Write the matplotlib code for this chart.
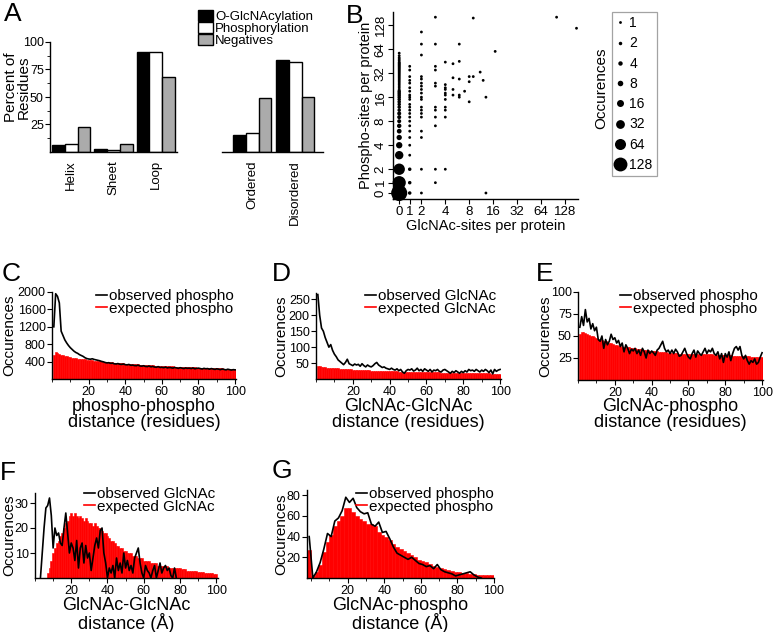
import numpy as np
import matplotlib
matplotlib.use('Agg')
import matplotlib.pyplot as plt
from matplotlib.lines import Line2D
from matplotlib.patches import Patch

plt.rcParams['font.family'] = ['Liberation Sans', 'DejaVu Sans']
plt.rcParams['axes.linewidth'] = 1.0
plt.rcParams['xtick.direction'] = 'out'
plt.rcParams['ytick.direction'] = 'out'
plt.rcParams['xtick.major.size'] = 3.5
plt.rcParams['ytick.major.size'] = 3.5
plt.rcParams['xtick.minor.size'] = 2
plt.rcParams['ytick.minor.size'] = 2
plt.rcParams['xtick.major.pad'] = 1.5
plt.rcParams['ytick.major.pad'] = 1.0

# ---------------- data ----------------
# Panel A
a_struct_cats = ['Helix', 'Sheet', 'Loop']
a_struct_glc = [6, 2.5, 91]
a_struct_pho = [7, 1.5, 91]
a_struct_neg = [23, 7, 68.5]
a_dis_cats = ['Ordered', 'Disordered']
a_dis_glc = [15.5, 84]
a_dis_pho = [17, 82]
a_dis_neg = [49, 50]
a_legend = ['O-GlcNAcylation', 'Phosphorylation', 'Negatives']

# Panel B (GlcNAc sites, phospho sites, number of proteins)
b_glc = [0]*50 + [1]*24 + [2]*19 + [3]*12 + [4]*11 + [5]*4 + [6]*5 + [7] + [8]*3 + [9]*2 + [11] + [12] + [13]*2 + [17] + [101] + [180]
b_pho = ([0, 1, 2, 3, 4, 5, 6, 7, 8, 9, 10, 11, 12, 13, 14, 15, 16, 17, 18, 19, 20, 21, 22, 23, 24,
          25, 26, 27, 28, 29, 30, 31, 32, 33, 34, 35, 36, 37, 38, 39, 40, 41, 42, 43, 44, 46, 48, 50, 53, 57]
         + [0, 1, 2, 3, 4, 5, 6, 7, 8, 9, 10, 11, 12, 13, 15, 16, 17, 19, 21, 24, 26, 29, 35, 39]
         + [0, 2, 5, 6, 9, 10, 11, 12, 15, 16, 18, 20, 22, 24, 27, 29, 54, 74, 105]
         + [1, 2, 7, 9, 11, 12, 22, 24, 35, 39, 74, 161]
         + [2, 9, 11, 12, 15, 17, 18, 20, 21, 23, 44]
         + [17, 20, 28, 42]
         + [16, 17, 27, 45, 74]
         + [19]
         + [14, 25, 29]
         + [29, 157]
         + [33]
         + [26]
         + [0, 16]
         + [60]
         + [161]
         + [117])
b_count = ([200, 110, 70, 28, 12, 7, 5, 4, 3, 3, 3, 2, 2, 2, 2, 2, 2, 2, 2, 2, 1, 1, 1, 1, 1,
            1, 1, 1, 1, 1, 1, 1, 1, 1, 1, 1, 1, 1, 1, 1, 1, 1, 1, 1, 1, 1, 1, 1, 1, 1]
           + [2, 2, 2, 1, 1, 1, 1, 1, 1, 1, 1, 1, 1, 1, 1, 1, 1, 1, 1, 1, 1, 1, 1, 1]
           + [1]*19 + [1]*12 + [1]*11 + [1]*4 + [1]*5 + [1] + [1]*3 + [1]*2 + [1] + [1] + [1]*2 + [1] + [1] + [1])
b_legend_counts = [1, 2, 4, 8, 16, 32, 64, 128]
b_ticks = [0, 1, 2, 4, 8, 16, 32, 64, 128]

# Panels C, D, E: distance in residues 1..100
res_dist = list(range(1, 101))
c_obs = [1200, 1960, 1900, 1750, 1100, 1000, 900, 830, 770, 720,
         680, 640, 610, 590, 560, 540, 520, 490, 470, 460,
         455, 465, 450, 440, 430, 420, 405, 395, 380, 370,
         375, 360, 365, 350, 345, 355, 340, 335, 345, 330,
         325, 335, 315, 320, 310, 305, 320, 300, 295, 305,
         290, 285, 300, 280, 290, 275, 270, 285, 265, 270,
         260, 275, 255, 265, 260, 250, 265, 255, 245, 260,
         250, 240, 255, 245, 250, 240, 255, 235, 245, 250,
         240, 230, 245, 235, 240, 225, 240, 230, 220, 235,
         225, 215, 230, 220, 210, 225, 215, 205, 215, 210]
c_exp = [560, 620, 600, 580, 560, 545, 535, 520, 510, 500,
         492, 485, 478, 470, 466, 460, 455, 450, 446, 440,
         435, 430, 425, 420, 416, 410, 406, 400, 396, 392,
         388, 384, 380, 376, 372, 369, 365, 362, 358, 355,
         352, 349, 346, 343, 340, 337, 334, 331, 328, 325,
         322, 320, 317, 315, 312, 310, 307, 305, 302, 300,
         298, 296, 294, 292, 290, 288, 286, 284, 282, 280,
         278, 276, 274, 272, 270, 268, 267, 265, 263, 262,
         260, 258, 257, 255, 254, 252, 251, 249, 248, 246,
         245, 243, 242, 240, 239, 237, 236, 234, 233, 231]
d_obs = [265, 200, 160, 150, 130, 115, 100, 108, 90, 78,
         70, 60, 55, 50, 45, 52, 62, 48, 45, 42,
         47, 44, 46, 40, 48, 42, 38, 44, 40, 38,
         42, 48, 52, 44, 40, 36, 38, 34, 32, 30,
         34, 30, 28, 32, 26, 30, 22, 18, 26, 30,
         28, 32, 25, 28, 34, 26, 30, 24, 32, 28,
         24, 30, 22, 28, 26, 30, 24, 22, 28, 30,
         26, 22, 18, 24, 20, 26, 22, 18, 24, 20,
         26, 22, 30, 26, 28, 24, 30, 26, 22, 28,
         24, 30, 26, 20, 28, 16, 30, 24, 28, 30]
d_exp = [42, 40, 39, 38, 37, 36, 36, 35, 34, 34,
         33, 33, 32, 32, 31, 31, 30, 30, 30, 29,
         29, 29, 28, 28, 28, 27, 27, 27, 27, 26,
         26, 26, 26, 25, 25, 25, 25, 25, 24, 24,
         24, 24, 24, 24, 23, 23, 23, 23, 23, 23,
         23, 22, 22, 22, 22, 22, 22, 22, 22, 21,
         21, 21, 21, 21, 21, 21, 21, 20, 20, 20,
         20, 20, 20, 20, 20, 20, 19, 19, 19, 19,
         19, 19, 19, 19, 19, 18, 18, 18, 18, 18,
         18, 18, 18, 18, 17, 17, 17, 17, 17, 17]
e_obs = [60, 72, 62, 80, 66, 70, 58, 64, 56, 60,
         46, 44, 50, 36, 46, 40, 44, 52, 46, 48,
         42, 45, 38, 42, 32, 40, 36, 30, 35, 33,
         36, 30, 34, 28, 36, 32, 25, 34, 30, 33,
         31, 28, 34, 36, 40, 44, 36, 32, 34, 30,
         34, 30, 35, 32, 27, 28, 32, 36, 30, 26,
         24, 30, 34, 26, 33, 30, 28, 32, 36, 30,
         34, 32, 36, 30, 28, 32, 24, 30, 20, 30,
         26, 32, 22, 30, 36, 38, 34, 38, 28, 24,
         28, 22, 18, 22, 20, 24, 18, 20, 26, 31]
e_exp = [52, 55, 54, 53, 52, 51, 50, 50, 49, 48,
         47, 46, 45, 44, 44, 43, 42, 42, 41, 40,
         40, 39, 39, 38, 38, 37, 37, 37, 36, 36,
         36, 35, 35, 35, 34, 34, 34, 34, 33, 33,
         33, 33, 33, 32, 32, 32, 32, 32, 31, 31,
         31, 31, 31, 31, 30, 30, 30, 30, 30, 30,
         30, 30, 30, 29, 29, 29, 29, 29, 29, 29,
         29, 29, 29, 28, 28, 28, 28, 28, 28, 28,
         28, 28, 28, 27, 27, 27, 27, 27, 27, 27,
         27, 27, 27, 26, 26, 26, 26, 26, 26, 26]

# Panel F: GlcNAc-GlcNAc distance in Angstrom
f_dist = list(range(1, 101))
f_exp = [0, 0, 0, 0, 0, 0, 2, 4, 7, 10,
         12, 14, 15, 17, 18, 20, 22, 23, 25, 26,
         25, 26, 25, 24, 25, 24, 23, 24, 23, 22,
         22, 21, 22, 21, 20, 20, 19, 18, 18, 17,
         16, 15, 15, 14, 13, 13, 12, 12, 11, 11,
         10, 10, 10, 9, 9, 9, 8, 8, 8, 7,
         7, 7, 7, 6, 6, 6, 6, 5, 5, 5,
         5, 5, 5, 4, 4, 4, 4, 4, 4, 4,
         3.5, 3.5, 3.5, 3, 3, 3, 3, 3, 3, 2.5,
         2.5, 2.5, 2.5, 2, 2, 2, 2, 2, 1.5, 1.5]
f_obs_dist = list(range(3, 79))
f_obs = [0, 10, 20, 28, 29, 32, 25, 12, 20, 17,
         18, 14, 13, 20, 26, 18, 10, 14, 12, 7,
         15, 4, 12, 14, 6, 13, 8, 10, 3, 8,
         13, 16, 12, 19, 20, 10, 6, 0, 4, 2,
         5, 0, 8, 3, 6, 2, 10, 4, 7, 3,
         5, 2, 8, 10, 12, 6, 2, 0, 5, 3,
         2, 0, 3, 5, 0, 3, 6, 2, 4, 5,
         3, 4, 1, 0, 4, 0]

# Panel G: GlcNAc-phospho distance in Angstrom (2 A bins)
g_dist = [-1, 1, 3, 5, 7, 9, 11, 13, 15, 17, 19, 21, 23, 25, 27, 29, 31, 33, 35, 37,
          39, 41, 43, 45, 47, 49, 51, 53, 55, 57, 59, 61, 63, 65, 67, 69, 71, 73, 75, 77,
          79, 81, 83, 85, 87, 89, 91, 93, 95, 97, 99]
g_exp = [27, 2, 6, 13, 25, 35, 42, 50, 55, 60, 68, 68, 64, 60, 57, 55, 52, 52, 50, 44,
         42, 40, 37, 33, 30, 28, 26, 24, 22, 20, 17, 16, 15, 14, 12, 11, 10, 9, 8, 7,
         6, 6, 5, 5, 4, 4, 3, 3, 2.5, 2.5, 2.5]
g_obs_dist = g_dist[:48]
g_obs = [40, 0, 6, 15, 28, 43, 40, 55, 58, 65, 78, 73, 77, 68, 64, 62, 63, 52, 50, 54,
         44, 45, 38, 30, 24, 22, 20, 18, 20, 17, 14, 13, 11, 12, 9, 13, 8, 6, 5, 4,
         2, 3, 4, 5, 6, 3, 1, 0]

# ---------------- figure ----------------
W, H = 776, 632
fig = plt.figure(figsize=(W / 100, H / 100), dpi=100)


def add_ax(l, t, r, b):
    return fig.add_axes([l / W, 1 - b / H, (r - l) / W, (b - t) / H])


def panel_letter(x, y, s):
    fig.text(x / W, 1 - y / H, s, fontsize=19, va='top', ha='left')


def clean(ax):
    ax.spines['top'].set_visible(False)
    ax.spines['right'].set_visible(False)


# ---- Panel A ----
GRAY = '#ababab'
axA1 = add_ax(50, 42, 177, 152)
axA2 = add_ax(222, 42, 323, 152)
for ax, cats, g, p, n in [(axA1, a_struct_cats, a_struct_glc, a_struct_pho, a_struct_neg),
                          (axA2, a_dis_cats, a_dis_glc, a_dis_pho, a_dis_neg)]:
    pos = np.arange(len(cats))
    ax.bar(pos - 0.3, g, width=0.3, color='black', edgecolor='black', linewidth=1)
    ax.bar(pos, p, width=0.3, color='white', edgecolor='black', linewidth=1)
    ax.bar(pos + 0.3, n, width=0.3, color=GRAY, edgecolor='black', linewidth=1)
    ax.set_xticks(pos)
    ax.set_xticklabels(cats, rotation=90, fontsize=9.5)
    ax.tick_params(axis='x', length=0, pad=6)
    ax.set_ylim(0, 100)
    clean(ax)
axA1.set_xlim(-0.5, 2.5)
axA2.set_xlim(-0.7, 1.65)
axA1.set_yticks([25, 50, 75, 100])
axA1.set_yticks([12.5, 37.5, 62.5, 87.5], minor=True)
axA1.tick_params(axis='y', labelsize=9)
axA1.set_ylabel('Percent of\nResidues', fontsize=11, linespacing=0.95)
axA1.yaxis.set_label_coords((31 - 50) / 127, 0.59)
axA2.spines['left'].set_visible(False)
axA2.set_yticks([])
a_handles = [Patch(facecolor='black', edgecolor='black'),
             Patch(facecolor='white', edgecolor='black'),
             Patch(facecolor=GRAY, edgecolor='black')]
fig.legend(a_handles, a_legend, loc='upper left', bbox_to_anchor=(198 / W, 1 - 10 / H),
           frameon=False, fontsize=9.5, handlelength=1.15, handleheight=0.85,
           handletextpad=0.15, labelspacing=-0.05, borderpad=0, borderaxespad=0)
panel_letter(4, 2, 'A')


# ---- Panel B ----
def make_scale(a0, a1):
    def fwd(v):
        v = np.asarray(v, dtype=float)
        lg = np.log2(np.maximum(v, 2.0))
        lo = a0 + (a1 - a0) * v
        mid = a1 + (1 - a1) * (v - 1)
        return np.where(v >= 2, lg, np.where(v >= 1, mid, lo))

    def inv(u):
        u = np.asarray(u, dtype=float)
        hi = 2.0 ** np.maximum(u, 1.0)
        mid = 1 + (u - a1) / (1 - a1)
        lo = (u - a0) / (a1 - a0)
        return np.where(u >= 1, hi, np.where(u >= a1, mid, lo))
    return fwd, inv


def marker_pt(n):
    return 2.8 * np.asarray(n, dtype=float) ** 0.33 * 0.72


axB = add_ax(393, 12, 578, 199)
axB.set_xscale('function', functions=make_scale(0.07, 0.51))
axB.set_yscale('function', functions=make_scale(0.01, 0.44))
axB.scatter(b_glc, b_pho, s=marker_pt(b_count) ** 2, color='black', linewidths=0, clip_on=False, zorder=3)
axB.set_xlim(-0.59, 188)
axB.set_ylim(-0.58, 187)
axB.set_xticks(b_ticks)
axB.set_xticklabels([str(t) for t in b_ticks], fontsize=9.5)
axB.set_yticks(b_ticks)
axB.set_yticklabels([str(t) for t in b_ticks], fontsize=9.5, rotation=90, va='center')
axB.minorticks_off()
clean(axB)
axB.set_xlabel('GlcNAc-sites per protein', fontsize=10.5, labelpad=1)
axB.set_ylabel('Phospho-sites per protein', fontsize=10.5, labelpad=1)
b_handles = [Line2D([], [], linestyle='none', marker='o', color='black', markeredgewidth=0,
                    markersize=float(marker_pt(n))) for n in b_legend_counts]
legB = fig.legend(b_handles, [str(n) for n in b_legend_counts], loc='upper left',
                  bbox_to_anchor=(612 / W, 1 - 12 / H), fontsize=10, frameon=True, fancybox=False,
                  edgecolor='#8c8c8c', handlelength=0.6, handletextpad=0.35, labelspacing=0.45,
                  borderpad=0.3, borderaxespad=0)
legB.get_frame().set_linewidth(0.9)
fig.text(601 / W, 1 - 88 / H, 'Occurences', rotation=90, fontsize=11, ha='center', va='center')
panel_letter(346, 4, 'B')


# ---- Panels C - G ----
def dist_panel(ax, xb, yexp, xo, yobs, width, xlim, ylim, yticks, xlabel, leg_labels, leg_xy,
               ylab_x, xlab_y):
    ax.bar(xb, yexp, width=width, color='red', edgecolor='red', linewidth=0.4, zorder=1)
    ax.plot(xo, yobs, color='black', linewidth=1.2, zorder=2)
    ax.set_xlim(*xlim)
    ax.set_ylim(*ylim)
    ax.set_xticks([20, 40, 60, 80, 100])
    ax.set_xticks([0, 10, 30, 50, 70, 90], minor=True)
    ax.set_yticks(yticks)
    ax.tick_params(axis='both', labelsize=9)
    clean(ax)
    ax.set_ylabel('Occurences', fontsize=11)
    bb = ax.get_position()
    ax.yaxis.set_label_coords((ylab_x / W - bb.x0) / bb.width, 0.5)
    ax.set_xlabel(xlabel, fontsize=13, linespacing=0.95)
    ax.xaxis.set_label_coords(0.5, ((1 - xlab_y / H) - bb.y0) / bb.height)
    handles = [Line2D([], [], color='black', lw=1.2), Line2D([], [], color='red', lw=1.2)]
    fig.legend(handles, leg_labels, loc='upper left',
               bbox_to_anchor=(leg_xy[0] / W, 1 - leg_xy[1] / H), frameon=False, fontsize=11,
               handlelength=0.75, handletextpad=0.1, labelspacing=-0.08, borderpad=0,
               borderaxespad=0)


axC = add_ax(52, 292, 236, 379)
dist_panel(axC, res_dist, c_exp, res_dist, c_obs, 1.0, (0, 100.5), (0, 2000),
           [400, 800, 1200, 1600, 2000], 'phospho-phospho\ndistance (residues)',
           ['observed phospho', 'expected phospho'], (96, 289), 16, 398)
panel_letter(2, 262, 'C')

axD = add_ax(316, 293, 501, 379)
dist_panel(axD, res_dist, d_exp, res_dist, d_obs, 1.0, (0, 100.5), (0, 270),
           [50, 100, 150, 200, 250], 'GlcNAc-GlcNAc\ndistance (residues)',
           ['observed GlcNAc', 'expected GlcNAc'], (365, 289), 288, 398)
panel_letter(272, 262, 'D')

axE = add_ax(578, 292, 763, 380)
dist_panel(axE, res_dist, e_exp, res_dist, e_obs, 1.0, (0, 100.5), (0, 100),
           [25, 50, 75, 100], 'GlcNAc-phospho\ndistance (residues)',
           ['observed phospho', 'expected phospho'], (620, 289), 552, 398)
panel_letter(536, 262, 'E')

axF = add_ax(35, 493, 218, 578)
dist_panel(axF, f_dist, f_exp, f_obs_dist, f_obs, 1.0, (1, 101), (0, 34),
           [10, 20, 30], 'GlcNAc-GlcNAc\ndistance (Å)',
           ['observed GlcNAc', 'expected GlcNAc'], (84, 487), 16, 597)
panel_letter(0, 461, 'F')

axG = add_ax(307, 490, 494, 578)
dist_panel(axG, g_dist, g_exp, g_obs_dist, g_obs, 2.0, (-2.2, 100), (0, 85),
           [20, 40, 60, 80], 'GlcNAc-phospho\ndistance (Å)',
           ['observed phospho', 'expected phospho'], (356, 487), 288, 597)
panel_letter(272, 459, 'G')

fig.savefig('out.png', dpi=100)
